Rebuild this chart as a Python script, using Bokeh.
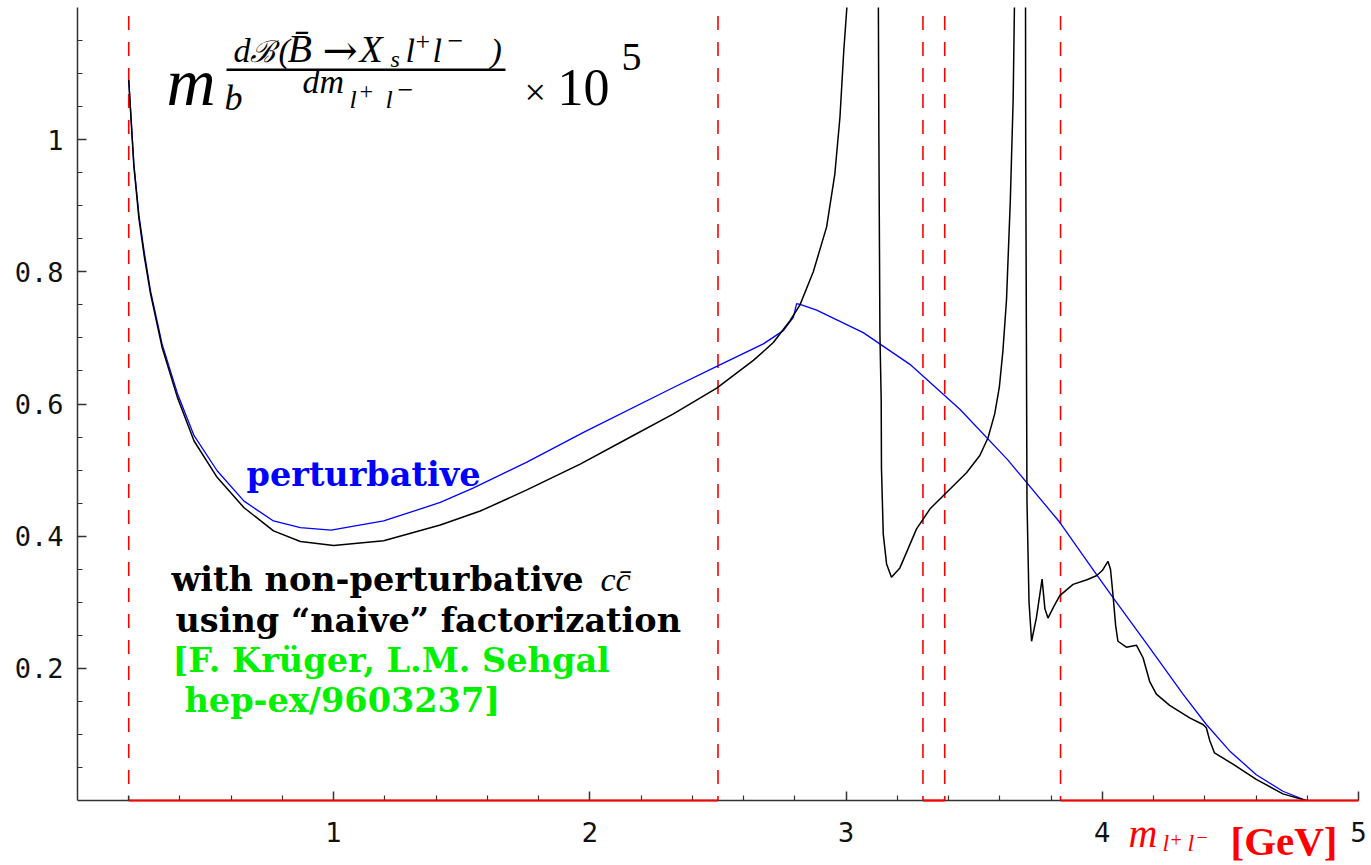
from bokeh.plotting import figure
from bokeh.models import Range1d, FixedTicker, Label, BoxAnnotation
from bokeh.embed import file_html
from bokeh.resources import INLINE

# ---------------- data ----------------
# dB/dm with non-perturbative c-cbar resonances ("naive" factorization)
black_x = [0.200, 0.220, 0.240, 0.260, 0.285, 0.330, 0.390, 0.455, 0.545, 0.650,
           0.765, 0.870, 1.000, 1.195, 1.416, 1.572, 1.754, 1.962, 2.144, 2.326,
           2.495, 2.638, 2.716, 2.781, 2.820, 2.872, 2.924, 2.956, 2.976, 2.991,
           3.003, 3.010, 3.097, 3.125, 3.128, 3.132, 3.137, 3.138, 3.145, 3.158,
           3.177, 3.210, 3.275, 3.327, 3.392, 3.470, 3.522, 3.554, 3.580, 3.598,
           3.612, 3.626, 3.641, 3.652, 3.657, 3.665, 3.686, 3.700, 3.701, 3.706,
           3.714, 3.724, 3.743, 3.765, 3.776, 3.788, 3.810, 3.834, 3.886, 3.940,
           3.977, 4.000, 4.022, 4.032, 4.042, 4.052, 4.061, 4.094, 4.133, 4.159,
           4.185, 4.211, 4.263, 4.341, 4.393, 4.406, 4.420, 4.438, 4.510, 4.601,
           4.705, 4.796]
black_y = [1.090, 0.960, 0.880, 0.825, 0.767, 0.686, 0.610, 0.544, 0.489, 0.443,
           0.408, 0.392, 0.386, 0.393, 0.417, 0.438, 0.470, 0.509, 0.547, 0.585,
           0.624, 0.666, 0.693, 0.726, 0.750, 0.800, 0.868, 0.948, 1.034, 1.135,
           1.200, 1.300, 3.000, 1.300, 1.000, 0.706, 0.605, 0.504, 0.403, 0.358,
           0.338, 0.352, 0.411, 0.441, 0.466, 0.496, 0.522, 0.549, 0.585, 0.625,
           0.680, 0.757, 0.908, 1.060, 1.200, 1.300, 3.000, 1.300, 1.000, 0.453,
           0.300, 0.241, 0.277, 0.335, 0.290, 0.276, 0.293, 0.310, 0.327, 0.334,
           0.340, 0.348, 0.362, 0.350, 0.310, 0.265, 0.241, 0.232, 0.235, 0.216,
           0.180, 0.161, 0.144, 0.125, 0.115, 0.110, 0.090, 0.072, 0.055, 0.032,
           0.010, 0.000]

# perturbative result
blue_x = [0.200, 0.220, 0.240, 0.260, 0.285, 0.330, 0.390, 0.455, 0.545, 0.650,
          0.765, 0.870, 0.990, 1.195, 1.416, 1.546, 1.754, 1.975, 2.326, 2.495,
          2.677, 2.755, 2.794, 2.807, 2.826, 2.885, 3.067, 3.249, 3.444, 3.632,
          3.834, 3.977, 4.042, 4.185, 4.315, 4.406, 4.497, 4.601, 4.705, 4.796]
blue_y = [1.090, 0.963, 0.885, 0.831, 0.771, 0.691, 0.616, 0.552, 0.499, 0.453,
          0.423, 0.413, 0.409, 0.423, 0.451, 0.473, 0.512, 0.557, 0.625, 0.657,
          0.691, 0.711, 0.731, 0.752, 0.750, 0.742, 0.708, 0.660, 0.592, 0.515,
          0.421, 0.342, 0.307, 0.231, 0.161, 0.115, 0.075, 0.039, 0.014, 0.000]

# cut positions (red dashed) and red regions on the axis
cut_x = [0.2, 2.5, 3.3, 3.385, 3.837]
cut_top = 1.187
band_start = [0.2, 3.3, 3.837]
band_end = [2.5, 3.385, 5.0]

# ticks
x_major = [1, 2, 3, 4, 5]
x_labels = ["1", "2", "3", "4", "5"]
x_minor = [0.2, 0.4, 0.6, 0.8, 1.2, 1.4, 1.6, 1.8, 2.2, 2.4, 2.6, 2.8,
           3.2, 3.4, 3.6, 3.8, 4.2, 4.4, 4.6, 4.8]
y_major = [0.2, 0.4, 0.6, 0.8, 1]
y_labels = ["0.2", "0.4", "0.6", "0.8", "1"]
y_minor = [0.05, 0.1, 0.15, 0.25, 0.3, 0.35, 0.45, 0.5, 0.55, 0.65, 0.7, 0.75,
           0.85, 0.9, 0.95, 1.05, 1.1, 1.15]
x_axis_span = (0, 5)
y_axis_span = (0, 1.2)

# ---------------- figure geometry ----------------
W, H = 1371, 865
L, T = 77, 7            # frame left / top in pixels
PX_X0, PX_Y0 = 77, 800  # pixel position of data x=0 / y=0
SX = 1281 / 5.0         # pixels per x unit
SY = 793 / 1.2          # pixels per y unit

x_lo = (L - PX_X0) / SX
x_hi = (W - PX_X0) / SX
y_hi = (PX_Y0 - T) / SY
y_lo = (PX_Y0 - H) / SY

p = figure(width=W, height=H, x_range=Range1d(x_lo, x_hi), y_range=Range1d(y_lo, y_hi),
           output_backend="svg", toolbar_location=None,
           min_border_left=L, min_border_right=0, min_border_top=T, min_border_bottom=0)
p.grid.visible = False
p.outline_line_color = None
p.background_fill_color = "white"
p.border_fill_color = "white"


def fx(px):
    return (px - PX_X0) / SX


def fy(py):
    return (PX_Y0 - py) / SY


for ax in (p.xaxis[0], p.yaxis[0]):
    ax.axis_line_color = "#333333"
    ax.axis_line_width = 1.5
    ax.major_tick_line_color = "#333333"
    ax.minor_tick_line_color = "#333333"
    ax.major_tick_line_width = 1.5
    ax.minor_tick_line_width = 1.2
    ax.major_tick_in = 9
    ax.major_tick_out = 0
    ax.minor_tick_in = 5
    ax.minor_tick_out = 0
    ax.major_label_text_color = "#111111"

xa = p.xaxis[0]
xa.fixed_location = 0
xa.bounds = x_axis_span
xa.ticker = FixedTicker(ticks=x_major, minor_ticks=x_minor)
xa.major_label_overrides = dict(zip(x_major, x_labels))
xa.major_label_text_font = "DejaVu Sans"
xa.major_label_text_font_size = "26px"
xa.major_label_standoff = 21

ya = p.yaxis[0]
ya.bounds = y_axis_span
ya.ticker = FixedTicker(ticks=y_major, minor_ticks=y_minor)
ya.major_label_overrides = dict(zip(y_major, y_labels))
ya.major_label_text_font = "DejaVu Sans Mono"
ya.major_label_text_font_size = "27px"
ya.major_label_standoff = 14

# ---------------- glyphs ----------------
p.segment(x0=cut_x, y0=[cut_top] * len(cut_x), x1=cut_x, y1=[0] * len(cut_x),
          line_color="#ff0000", line_width=1.6, line_dash="14 12")
p.line(blue_x, blue_y, line_color="#0000ff", line_width=1.3)
p.line(black_x, black_y, line_color="black", line_width=1.5)
p.segment(x0=band_start, y0=[0] * len(band_start), x1=band_end, y1=[0] * len(band_end),
          line_color="#ff0000", line_width=2.2, level="overlay")

# ---------------- texts ----------------
SERIF = "Liberation Serif"
SYM = "DejaVu Serif"
BOLD_SERIF = "DejaVu Serif"
K = 0.34  # baseline compensation (fraction of font size)


def lab(px, py, text, size, color="black", font=SERIF, style="normal"):
    p.add_layout(Label(x=fx(px), y=fy(py - K * size), text=text, text_font=font,
                       text_font_size=f"{size}px", text_font_style=style,
                       text_color=color, text_baseline="alphabetic", text_align="left"))


# title formula  m_b dB(B->X_s l+ l-)/dm_{l+l-} x 10^5
lab(166, 104.6, "m", 68, style="italic")
lab(224, 109.5, "b", 36, style="italic")
# numerator
lab(233, 61.5, "d", 34, style="italic")
lab(249, 61.5, "\u212C", 30, style="italic")
lab(278, 61.5, "(", 34, style="italic")
lab(287, 61.5, "B\u0304", 40, style="italic")
lab(322, 64, "\u2192", 42, font=SYM)
lab(359, 61.5, "X", 38, style="italic")
lab(390, 67, "s", 24, style="italic")
lab(405, 61.5, "l", 34, style="italic")
lab(415, 50, "+", 26)
lab(432, 61.5, "l", 34, style="italic")
lab(447, 50, "\u2212", 28)
lab(490, 61.5, ")", 34, style="italic")
# fraction bar
p.add_layout(BoxAnnotation(left=fx(226), right=fx(505), bottom=fy(70.5), top=fy(68.0),
                           fill_color="black", fill_alpha=1.0, line_color=None))
# denominator
lab(302, 93, "dm", 34, style="italic")
lab(349, 108, "l", 26, style="italic")
lab(359, 99, "+", 24)
lab(385, 108, "l", 26, style="italic")
lab(397, 99, "\u2212", 28)
# times ten to the fifth
lab(524, 104.6, "\u00D7", 38)
lab(557, 104.6, "10", 52)
lab(621, 70, "5", 40)

# curve labels
lab(246, 485.6, "perturbative", 33.5, color="#0000ff", font=BOLD_SERIF, style="bold")
lab(171, 590.8, "with non-perturbative", 33.5, font=BOLD_SERIF, style="bold")
lab(600, 590.8, "cc\u0304", 34, style="italic")
lab(175, 631, "using \u201Cnaive\u201D factorization", 33.5, font=BOLD_SERIF, style="bold")
lab(172, 671.5, "[F. Kr\u00FCger, L.M. Sehgal", 33.5, color="#00f000", font=BOLD_SERIF, style="bold")
lab(184, 711.8, "hep-ex/9603237]", 33.5, color="#00f000", font=BOLD_SERIF, style="bold")

# x-axis label  m_{l+l-} [GeV]
lab(1128, 847, "m", 40, color="#ff0000", style="italic")
lab(1162, 851, "l", 24, color="#ff0000", style="italic")
lab(1170, 846, "+", 20, color="#ff0000")
lab(1187, 851, "l", 24, color="#ff0000", style="italic")
lab(1196, 843, "\u2212", 20, color="#ff0000")
lab(1230, 854, "[GeV]", 41, color="#ff0000", style="bold")

open("out.html", "w").write(file_html(p, INLINE))
